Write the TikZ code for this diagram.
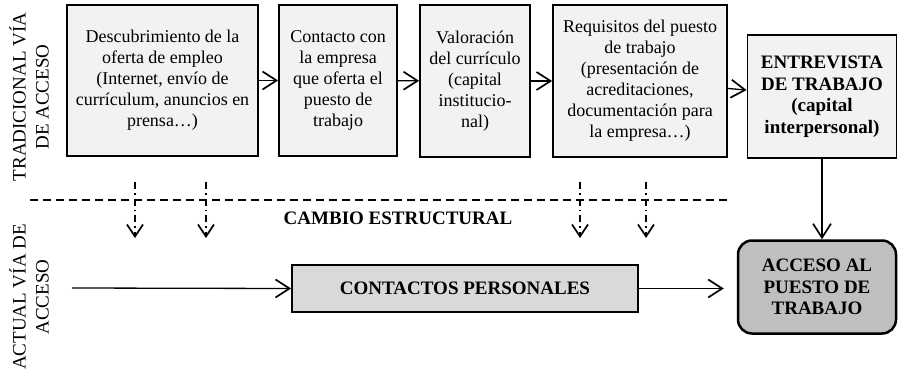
\documentclass[tikz,border=0pt]{standalone}
\usepackage{fontspec}
\setmainfont{Liberation Serif}
\usetikzlibrary{arrows.meta}

\tikzset{
  paso/.style={draw, line width=1.8pt, fill=black!5, align=center, inner sep=0pt},
  flecha/.style={line width=1.3pt, -{Straight Barb[length=14pt,width=18pt,line width=1.7pt]}},
  cambio/.style={line width=1.3pt, dash pattern=on 7pt off 4pt on 1.5pt off 4pt,
                 -{Straight Barb[length=12pt,width=16pt,line width=1.7pt]}}
}

\begin{document}
\begin{tikzpicture}[x=1pt, y=-1pt, font=\fontsize{18}{21}\selectfont]
\useasboundingbox (0,0) rectangle (898,375);

%the traditional way
\node[paso, minimum width=191pt, minimum height=151pt] (descub) at (162.5,80.5)
  {Descubrimiento de la\\oferta de empleo\\(Internet, envío de\\currículum, anuncios en\\prensa…)};
\node[paso, minimum width=118pt, minimum height=151pt] (contacto) at (338,80.5)
  {Contacto con\\la empresa\\que oferta el\\puesto de\\trabajo};
\node[paso, minimum width=110pt, minimum height=152pt] (valora) at (475,81)
  {Valoración\\del currículo\\(capital\\institucio-\\nal)};
\node[paso, minimum width=174pt, minimum height=152pt] (requis) at (640,81)
  {Requisitos del puesto\\de trabajo\\(presentación de\\acreditaciones,\\documentación para\\la empresa…)};
\node[paso, minimum width=149pt, minimum height=123pt, font=\fontsize{19}{21.5}\selectfont\bfseries] (entrev) at (822,96.5)
  {ENTREVISTA\\DE TRABAJO\\(capital\\interpersonal)};

\draw[flecha] (descub) -- (contacto);
\draw[flecha] (contacto) -- (valora);
\draw[flecha] (valora) -- (requis);
\draw[flecha] (requis) -- (entrev);

%the change
\coordinate (izq) at (30,200);
\coordinate (der) at (727,200);
\draw[line width=1.3pt, dash pattern=on 8pt off 5pt] (izq) -- (der);
\node[font=\fontsize{19}{21}\selectfont\bfseries] (estruct) at (398,218) {CAMBIO ESTRUCTURAL};

\foreach \i/\x in {a/135, b/206, c/580, d/646} {
  \coordinate (arr\i) at (\x,182);
  \coordinate (aba\i) at (\x,238);
  \draw[cambio] (arr\i) -- (aba\i);
}

%the actual way
\node[draw, line width=1.8pt, fill=black!15, minimum width=346pt, minimum height=47pt,
  inner sep=0pt, font=\fontsize{19}{21}\selectfont\bfseries] (contactos) at (465,288.5)
  {CONTACTOS PERSONALES};
\node[draw, line width=2.5pt, fill=black!25, rounded corners=14pt, minimum width=158pt,
  minimum height=93pt, inner sep=0pt, align=center, font=\fontsize{19}{21.5}\selectfont\bfseries]
  (acceso) at (817,287) {ACCESO AL\\PUESTO DE\\TRABAJO};

\coordinate (inicio) at (72,288);
\draw[flecha] (inicio) -- (contactos.west);
\draw[flecha, shorten >=13pt] (contactos.east) -- (contactos.east -| acceso.west);
\draw[flecha] (entrev.south) -- (entrev.south |- acceso.north);

%the labels
\node[rotate=90, align=center, font=\fontsize{19}{23}\selectfont] (tradic) at (29,97)
  {TRADICIONAL VÍA\\DE ACCESO};
\node[rotate=90, align=center, font=\fontsize{19}{23}\selectfont] (actual) at (29,297)
  {ACTUAL VÍA DE\\ACCESO};
\end{tikzpicture}
\end{document}
